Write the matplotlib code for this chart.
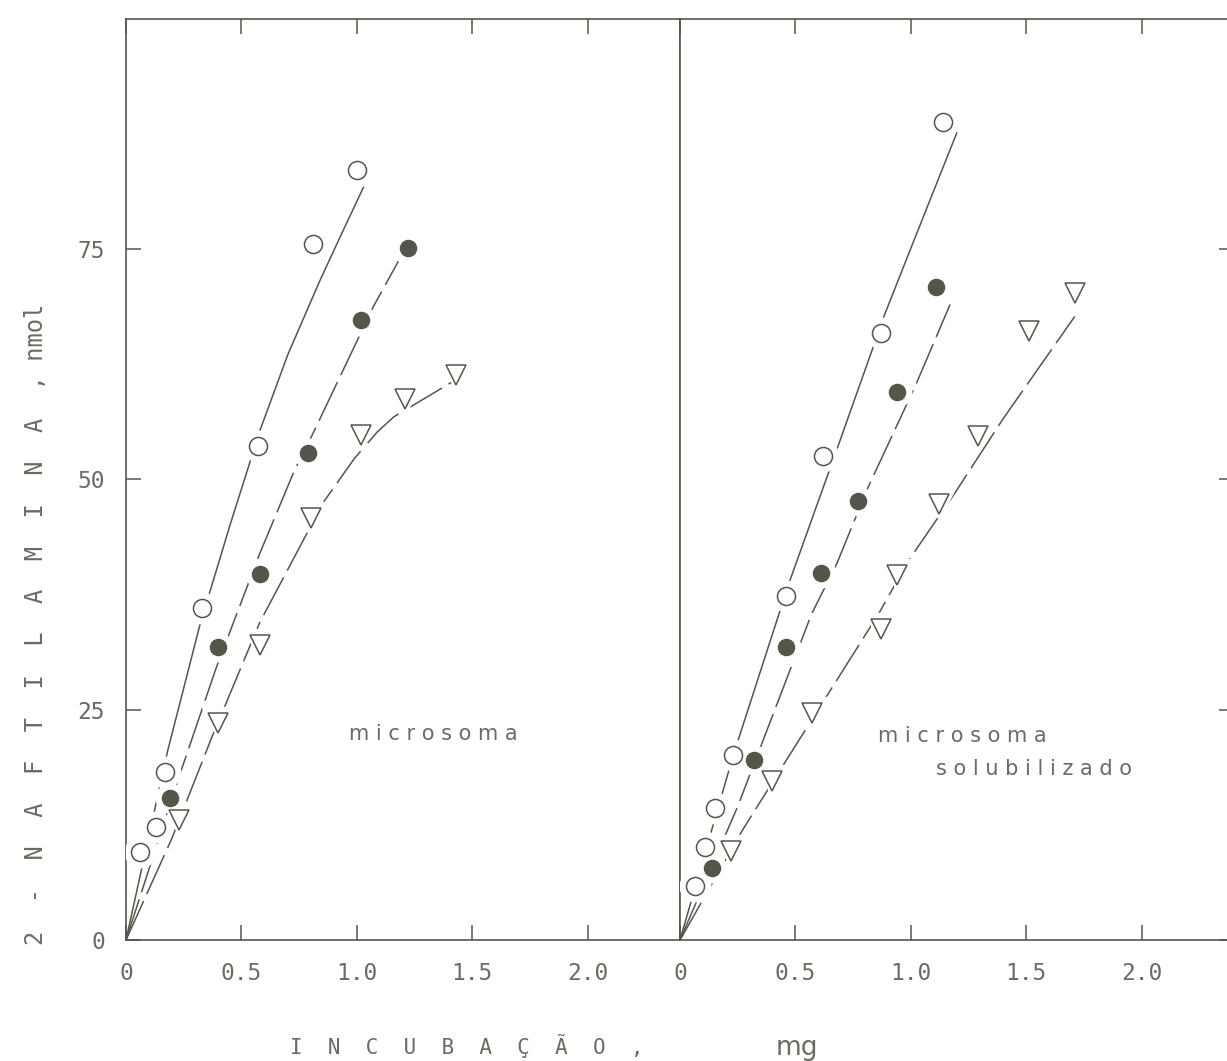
import matplotlib
matplotlib.use('Agg')
import matplotlib.pyplot as plt

# --- data (x = mg, y = nmol 2-naftilamina) ---
left_open_x = [0.06, 0.13, 0.17, 0.33, 0.57, 0.81, 1.00]
left_open_y = [9.6, 12.3, 18.2, 36.0, 53.6, 75.6, 83.6]
left_fill_x = [0.19, 0.40, 0.58, 0.79, 1.02, 1.22]
left_fill_y = [15.4, 31.8, 39.7, 52.9, 67.3, 75.1]
left_tri_x = [0.23, 0.40, 0.58, 0.80, 1.02, 1.21, 1.43]
left_tri_y = [13.0, 23.6, 32.0, 45.8, 54.8, 58.7, 61.4]

right_open_x = [0.065, 0.11, 0.15, 0.23, 0.46, 0.62, 0.87, 1.14]
right_open_y = [5.9, 10.1, 14.3, 20.1, 37.4, 52.5, 65.9, 88.8]
right_fill_x = [0.14, 0.32, 0.46, 0.61, 0.77, 0.94, 1.11]
right_fill_y = [7.8, 19.5, 31.8, 39.8, 47.7, 59.5, 70.9]
right_tri_x = [0.22, 0.40, 0.57, 0.87, 0.94, 1.12, 1.29, 1.51, 1.71]
right_tri_y = [9.7, 17.3, 24.6, 33.8, 39.6, 47.3, 54.7, 66.1, 70.3]

# hand-drawn fitted curves
left_open_fit_x = [0, 0.18, 0.32, 0.45, 0.58, 0.70, 0.84, 0.94, 1.03]
left_open_fit_y = [0, 20.5, 34.2, 45.0, 55.3, 63.5, 71.6, 77.0, 81.8]
left_fill_fit_x = [0, 0.22, 0.39, 0.58, 0.73, 0.81, 1.00, 1.07, 1.18]
left_fill_fit_y = [0, 17.0, 29.5, 42.0, 51.0, 55.0, 65.0, 68.7, 73.7]
left_tri_fit_x = [0, 0.20, 0.37, 0.58, 0.77, 0.86, 0.99, 1.09, 1.16, 1.42]
left_tri_fit_y = [0, 11.1, 21.9, 34.5, 43.5, 47.7, 52.3, 55.2, 56.8, 60.7]

right_open_fit_x = [0, 0.23, 0.47, 0.68, 0.84, 0.88, 1.03, 1.20]
right_open_fit_y = [0, 20.0, 38.6, 53.3, 64.6, 67.5, 77.0, 87.7]
right_fill_fit_x = [0, 0.25, 0.57, 0.68, 0.81, 1.02, 1.17]
right_fill_fit_y = [0, 14.5, 35.4, 40.9, 48.9, 60.2, 69.0]
right_tri_fit_x = [0, 0.27, 0.45, 0.86, 0.99, 1.19, 1.40, 1.71]
right_tri_fit_y = [0, 11.9, 19.1, 35.4, 41.2, 48.5, 56.6, 67.7]

x_ticks = [0, 0.5, 1.0, 1.5, 2.0]
x_ticklabels = ['0', '0.5', '1.0', '1.5', '2.0']
y_ticks = [0, 25, 50, 75]
y_ticklabels = ['0', '25', '50', '75']

INK = '#55564a'
TEXT = '#6b6b62'
MONO = 'DejaVu Sans Mono'

W, H = 1227, 1061
fig = plt.figure(figsize=(W / 100, H / 100), dpi=100)
fig.patch.set_facecolor('white')

def px_rect(x0, y0, x1, y1):
    return [x0 / W, 1 - y1 / H, (x1 - x0) / W, (y1 - y0) / H]

ax_l = fig.add_axes(px_rect(126, 19, 680, 940))
ax_r = fig.add_axes(px_rect(680, 19, 1234, 940))


def draw_series(ax, x, y, fx, fy, marker, ms, filled, dashed):
    line, = ax.plot(fx, fy, color=INK, lw=1.1, zorder=2, solid_capstyle='butt')
    if dashed:
        line.set_dashes((28, 5))
    # white halo so the line breaks around each symbol
    ax.plot(x, y, ls='none', marker=marker, ms=ms + 9, mfc='white',
            mec='white', zorder=3)
    ax.plot(x, y, ls='none', marker=marker, ms=ms,
            mfc=INK if filled else 'white', mec=INK, mew=1.1, zorder=4)


for ax in (ax_l, ax_r):
    ax.set_xlim(0, 2.4)
    ax.set_ylim(0, 100)
    for sp in ax.spines.values():
        sp.set_color(INK)
        sp.set_linewidth(1.2)
    ax.set_xticks(x_ticks)
    ax.set_xticklabels(x_ticklabels, fontfamily=MONO, fontsize=16.5, color=TEXT)
    ax.tick_params(axis='x', direction='in', length=11, width=1.1, color=INK,
                   top=True, bottom=True, pad=16)
    ax.set_yticks(y_ticks)

ax_l.set_yticklabels(y_ticklabels, fontfamily=MONO, fontsize=16.5, color=TEXT)
ax_l.tick_params(axis='y', direction='in', length=11, width=1.1, color=INK,
                 left=True, right=False, pad=15)
ax_r.tick_params(axis='y', direction='in', length=11, width=1.1, color=INK,
                 left=False, right=True, labelleft=False, labelright=False)

draw_series(ax_l, left_open_x, left_open_y, left_open_fit_x, left_open_fit_y, 'o', 13, False, False)
draw_series(ax_l, left_fill_x, left_fill_y, left_fill_fit_x, left_fill_fit_y, 'o', 11.5, True, True)
draw_series(ax_l, left_tri_x, left_tri_y, left_tri_fit_x, left_tri_fit_y, 'v', 14, False, True)

draw_series(ax_r, right_open_x, right_open_y, right_open_fit_x, right_open_fit_y, 'o', 13, False, False)
draw_series(ax_r, right_fill_x, right_fill_y, right_fill_fit_x, right_fill_fit_y, 'o', 11.5, True, True)
draw_series(ax_r, right_tri_x, right_tri_y, right_tri_fit_x, right_tri_fit_y, 'v', 14, False, True)

ax_l.text(0.965, 22.4, 'm i c r o s o m a', fontsize=15, color=TEXT,
          ha='left', va='center', family='DejaVu Sans')
ax_r.text(0.857, 22.2, 'm i c r o s o m a', fontsize=15, color=TEXT,
          ha='left', va='center', family='DejaVu Sans')
ax_r.text(1.11, 18.6, 's o l u b i l i z a d o', fontsize=15, color=TEXT,
          ha='left', va='center', family='DejaVu Sans')

# axis titles, letter-spaced like the original typewriter lettering
fig.text(36 / W, 1 - 945 / H, '2  -  N  A  F  T  I  L  A  M  I  N  A  , nmol',
         rotation=90, ha='center', va='bottom', fontsize=17, color=TEXT,
         family=MONO)
fig.text(290 / W, 1 - 1046 / H, 'I  N  C  U  B  A  Ç  Ã  O  ,',
         ha='left', va='center', fontsize=15, color=TEXT, family=MONO)
fig.text(776 / W, 1 - 1048 / H, 'mg', ha='left', va='center', fontsize=19,
         color=TEXT, family='DejaVu Sans')

fig.savefig('out.png', dpi=100, facecolor='white')
